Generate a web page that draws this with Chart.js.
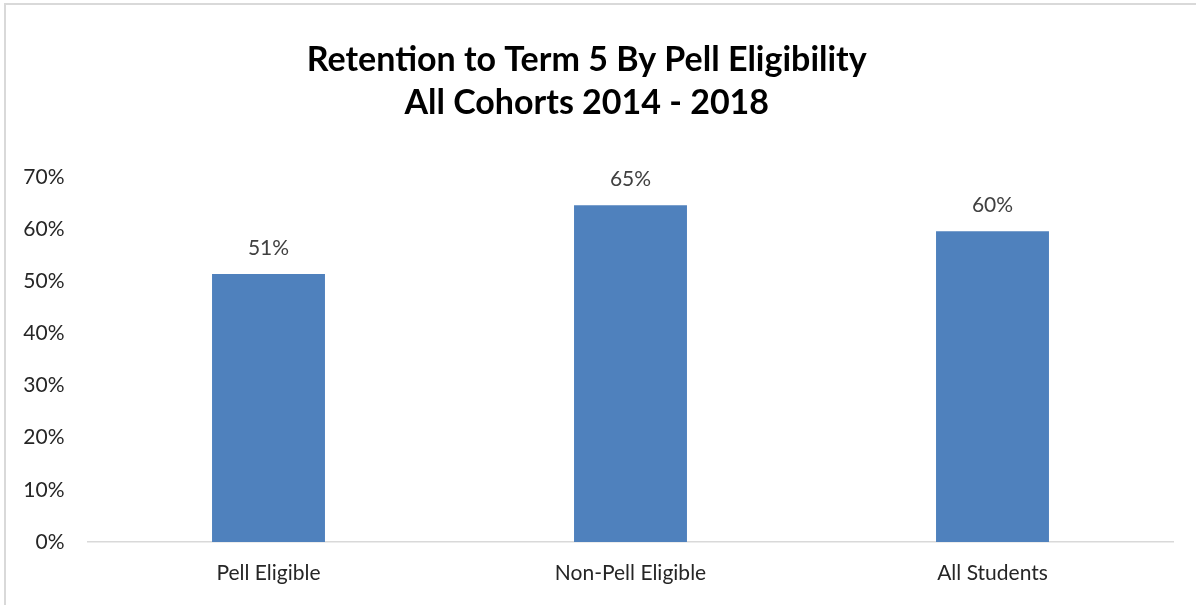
<!DOCTYPE html>
<html>
<head>
<meta charset="utf-8">
<script src="https://cdn.jsdelivr.net/npm/chart.js@4.4.1/dist/chart.umd.min.js"></script>
<style>
  html, body { margin: 0; padding: 0; background: #fff; overflow: hidden; }
  #frame {
    position: absolute; left: 4px; top: 3px; width: 1300px; height: 700px;
    border: 2px solid #d9d9d9; box-sizing: border-box;
  }
  #wrap { position: absolute; left: 0; top: 0; width: 1196px; height: 605px; }
</style>
</head>
<body>
<div id="frame"></div>
<div id="wrap"><canvas id="retentionChart"></canvas></div>
<script>
// ======================
// Dữ liệu biểu đồ
// ======================
const categories = ["Pell Eligible", "Non-Pell Eligible", "All Students"];
const retention = [51.4, 64.6, 59.6];
const valueLabels = ["51%", "65%", "60%"];
const yTicks = [0, 10, 20, 30, 40, 50, 60, 70];
const titleLines = ["Retention to Term 5 By Pell Eligibility", "All Cohorts 2014 - 2018"];

const FONT = "Lato, 'Open Sans', sans-serif";

// nhãn giá trị trên đầu cột
const barLabels = {
  id: "barLabels",
  afterDatasetsDraw(chart) {
    const ctx = chart.ctx;
    const meta = chart.getDatasetMeta(0);
    ctx.save();
    ctx.font = "21px " + FONT;
    ctx.fillStyle = "#404040";
    ctx.textAlign = "center";
    ctx.textBaseline = "alphabetic";
    meta.data.forEach((bar, i) => {
      ctx.fillText(valueLabels[i], bar.x, bar.y - 19);
    });
    ctx.restore();
  }
};

const ctx = document.getElementById("retentionChart").getContext("2d");
new Chart(ctx, {
  type: "bar",
  data: {
    labels: categories,
    datasets: [{
      label: "Retention",
      data: retention,
      backgroundColor: "#4F81BD",
      borderWidth: 0,
      barPercentage: 0.312,
      categoryPercentage: 1
    }]
  },
  options: {
    responsive: true,
    maintainAspectRatio: false,
    animation: false,
    layout: { padding: { left: 0, right: 22.5, top: 0, bottom: 0 } },
    plugins: {
      legend: { display: false },
      tooltip: { enabled: false },
      title: {
        display: true,
        text: titleLines,
        color: "#000",
        font: { family: FONT, size: 34, weight: "bold", lineHeight: 1.265 },
        padding: { top: 38.5, bottom: 52.5 }
      }
    },
    scales: {
      x: {
        grid: { display: false, drawTicks: false },
        border: { display: true, color: "#d9d9d9", width: 1.5 },
        ticks: { color: "#262626", font: { family: FONT, size: 21 }, padding: 19 },
        afterFit: scale => { scale.height = 63; }
      },
      y: {
        min: 0,
        max: 70,
        grid: { display: false, drawTicks: false },
        border: { display: false },
        afterBuildTicks: scale => { scale.ticks = yTicks.map(v => ({ value: v })); },
        ticks: {
          color: "#262626",
          font: { family: FONT, size: 21 },
          padding: 23,
          callback: v => v + "%"
        },
        afterFit: scale => { scale.width = 87.5; }
      }
    }
  },
  plugins: [barLabels]
});
</script>
</body>
</html>
